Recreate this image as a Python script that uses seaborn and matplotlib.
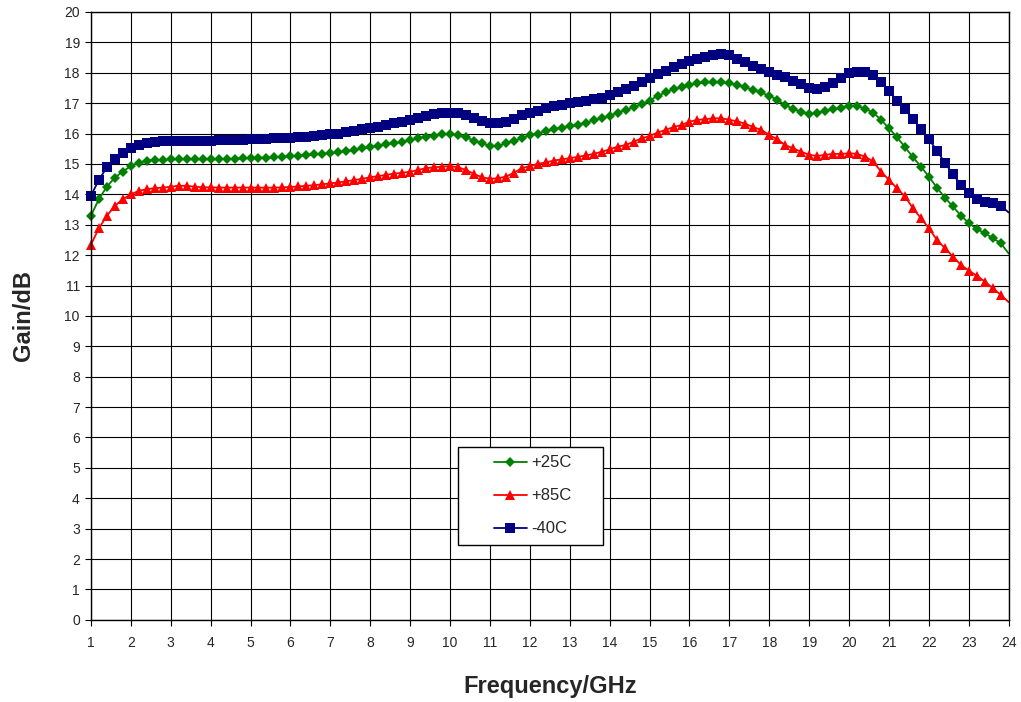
import numpy as np
import pandas as pd
import seaborn as sns
import matplotlib
matplotlib.use('Agg')
from matplotlib import pyplot as plt
from matplotlib.patches import Rectangle

# frequency points, 1 .. 24 GHz in 0.2 GHz steps
freq = np.round(np.arange(1.0, 24.01, 0.2), 1)

# gain readings (dB)
gain_25 = [13.29, 13.84, 14.25, 14.55, 14.75,
           14.93, 15.04, 15.11, 15.13, 15.13,
           15.15, 15.15, 15.15, 15.15, 15.15,
           15.15, 15.15, 15.16, 15.17, 15.18,
           15.19, 15.20, 15.21, 15.22, 15.24,
           15.26, 15.27, 15.29, 15.31, 15.33,
           15.35, 15.38, 15.42, 15.46, 15.51,
           15.56, 15.60, 15.64, 15.68, 15.73,
           15.78, 15.84, 15.90, 15.93, 15.97,
           15.98, 15.95, 15.87, 15.77, 15.68,
           15.59, 15.59, 15.68, 15.77, 15.84,
           15.95, 16.00, 16.09, 16.14, 16.19,
           16.24, 16.28, 16.36, 16.43, 16.50,
           16.58, 16.69, 16.78, 16.86, 16.97,
           17.08, 17.24, 17.35, 17.46, 17.52,
           17.60, 17.65, 17.68, 17.68, 17.68,
           17.65, 17.60, 17.52, 17.43, 17.35,
           17.24, 17.11, 16.94, 16.80, 16.72,
           16.63, 16.69, 16.74, 16.80, 16.85,
           16.91, 16.91, 16.81, 16.69, 16.45,
           16.17, 15.88, 15.55, 15.22, 14.91,
           14.58, 14.22, 13.89, 13.60, 13.30,
           13.05, 12.86, 12.72, 12.56, 12.39,
           12.05]

gain_85 = [12.34, 12.88, 13.29, 13.62, 13.84,
           14.00, 14.11, 14.17, 14.20, 14.22,
           14.25, 14.28, 14.28, 14.25, 14.23,
           14.23, 14.22, 14.22, 14.22, 14.22,
           14.22, 14.22, 14.22, 14.22, 14.23,
           14.24, 14.26, 14.28, 14.30, 14.33,
           14.36, 14.39, 14.43, 14.47, 14.51,
           14.56, 14.60, 14.64, 14.68, 14.71,
           14.74, 14.80, 14.86, 14.89, 14.91,
           14.93, 14.89, 14.80, 14.67, 14.56,
           14.51, 14.53, 14.58, 14.71, 14.86,
           14.93, 15.00, 15.05, 15.11, 15.15,
           15.19, 15.23, 15.28, 15.33, 15.40,
           15.48, 15.57, 15.62, 15.73, 15.84,
           15.92, 16.03, 16.12, 16.21, 16.28,
           16.39, 16.45, 16.47, 16.50, 16.50,
           16.45, 16.40, 16.32, 16.21, 16.12,
           15.95, 15.81, 15.62, 15.51, 15.40,
           15.30, 15.26, 15.30, 15.33, 15.33,
           15.35, 15.33, 15.24, 15.08, 14.75,
           14.47, 14.20, 13.93, 13.54, 13.21,
           12.88, 12.50, 12.23, 11.95, 11.68,
           11.49, 11.32, 11.13, 10.91, 10.69,
           10.45]

gain_m40 = [13.95, 14.47, 14.89, 15.15, 15.37,
            15.52, 15.63, 15.68, 15.73, 15.76,
            15.77, 15.77, 15.77, 15.77, 15.77,
            15.77, 15.78, 15.78, 15.79, 15.80,
            15.81, 15.82, 15.83, 15.84, 15.85,
            15.86, 15.87, 15.89, 15.91, 15.94,
            15.97, 16.00, 16.04, 16.09, 16.14,
            16.19, 16.23, 16.28, 16.33, 16.38,
            16.44, 16.52, 16.58, 16.63, 16.67,
            16.69, 16.67, 16.61, 16.52, 16.42,
            16.36, 16.34, 16.39, 16.47, 16.61,
            16.69, 16.75, 16.83, 16.89, 16.94,
            17.00, 17.05, 17.08, 17.13, 17.18,
            17.27, 17.38, 17.46, 17.57, 17.71,
            17.82, 17.95, 18.07, 18.20, 18.28,
            18.37, 18.44, 18.53, 18.59, 18.62,
            18.57, 18.44, 18.34, 18.22, 18.11,
            18.04, 17.93, 17.85, 17.74, 17.63,
            17.49, 17.46, 17.54, 17.67, 17.82,
            17.98, 18.04, 18.04, 17.93, 17.71,
            17.40, 17.08, 16.80, 16.47, 16.14,
            15.81, 15.44, 15.04, 14.66, 14.31,
            14.04, 13.84, 13.76, 13.71, 13.62,
            13.40]

labels = ['+25C', '+85C', '-40C']

sns.set_style('white')
plt.rcParams['font.family'] = ['Liberation Sans', 'DejaVu Sans']

fig = plt.figure(figsize=(10.21, 7.02), dpi=100)
ax = fig.add_axes([0.089, 0.117, 0.899, 0.866])

styles = [(gain_25, '#008000', 'D', 5.5),
          (gain_85, '#FF0000', '^', 7.5),
          (gain_m40, '#000080', 's', 7)]

for (g, c, m, ms), lab in zip(styles, labels):
    df = pd.DataFrame({'freq': freq, 'gain': g})
    sns.lineplot(data=df, x='freq', y='gain', ax=ax, color=c, marker=m,
                 markersize=ms, markeredgewidth=0, linewidth=1.3,
                 markevery=slice(0, len(freq) - 1), label=lab, clip_on=False)

ax.set_xlim(1, 24)
ax.set_ylim(0, 20)
ax.set_xticks(np.arange(1, 25, 1))
ax.set_yticks(np.arange(0, 21, 1))
ax.grid(True, color='black', linewidth=0.8)
ax.set_axisbelow(True)
for s in ax.spines.values():
    s.set_color('black')
    s.set_linewidth(1)
ax.tick_params(axis='both', direction='out', length=4, width=0.8,
               color='black', labelsize=10, pad=4, left=True, bottom=True)
for lab in ax.get_xticklabels():
    lab.set_y(-0.008)

ax.set_xlabel('Frequency/GHz', fontsize=17, fontweight='bold', labelpad=18)
ax.set_ylabel('Gain/dB', fontsize=17, fontweight='bold', labelpad=21)

# legend box drawn as a frame, entries placed inside
ax.add_patch(Rectangle((0.3998, 0.1234), 0.1579, 0.1611, transform=ax.transAxes,
                       facecolor='white', edgecolor='black', linewidth=1,
                       zorder=5))
leg = ax.legend(loc='center left', bbox_to_anchor=(0.439, 0.204), fontsize=12,
                frameon=False, handlelength=2.0, labelspacing=1.08,
                borderpad=0, handletextpad=0.25, borderaxespad=0)
leg.set_zorder(6)

fig.savefig('out.png', dpi=100)
